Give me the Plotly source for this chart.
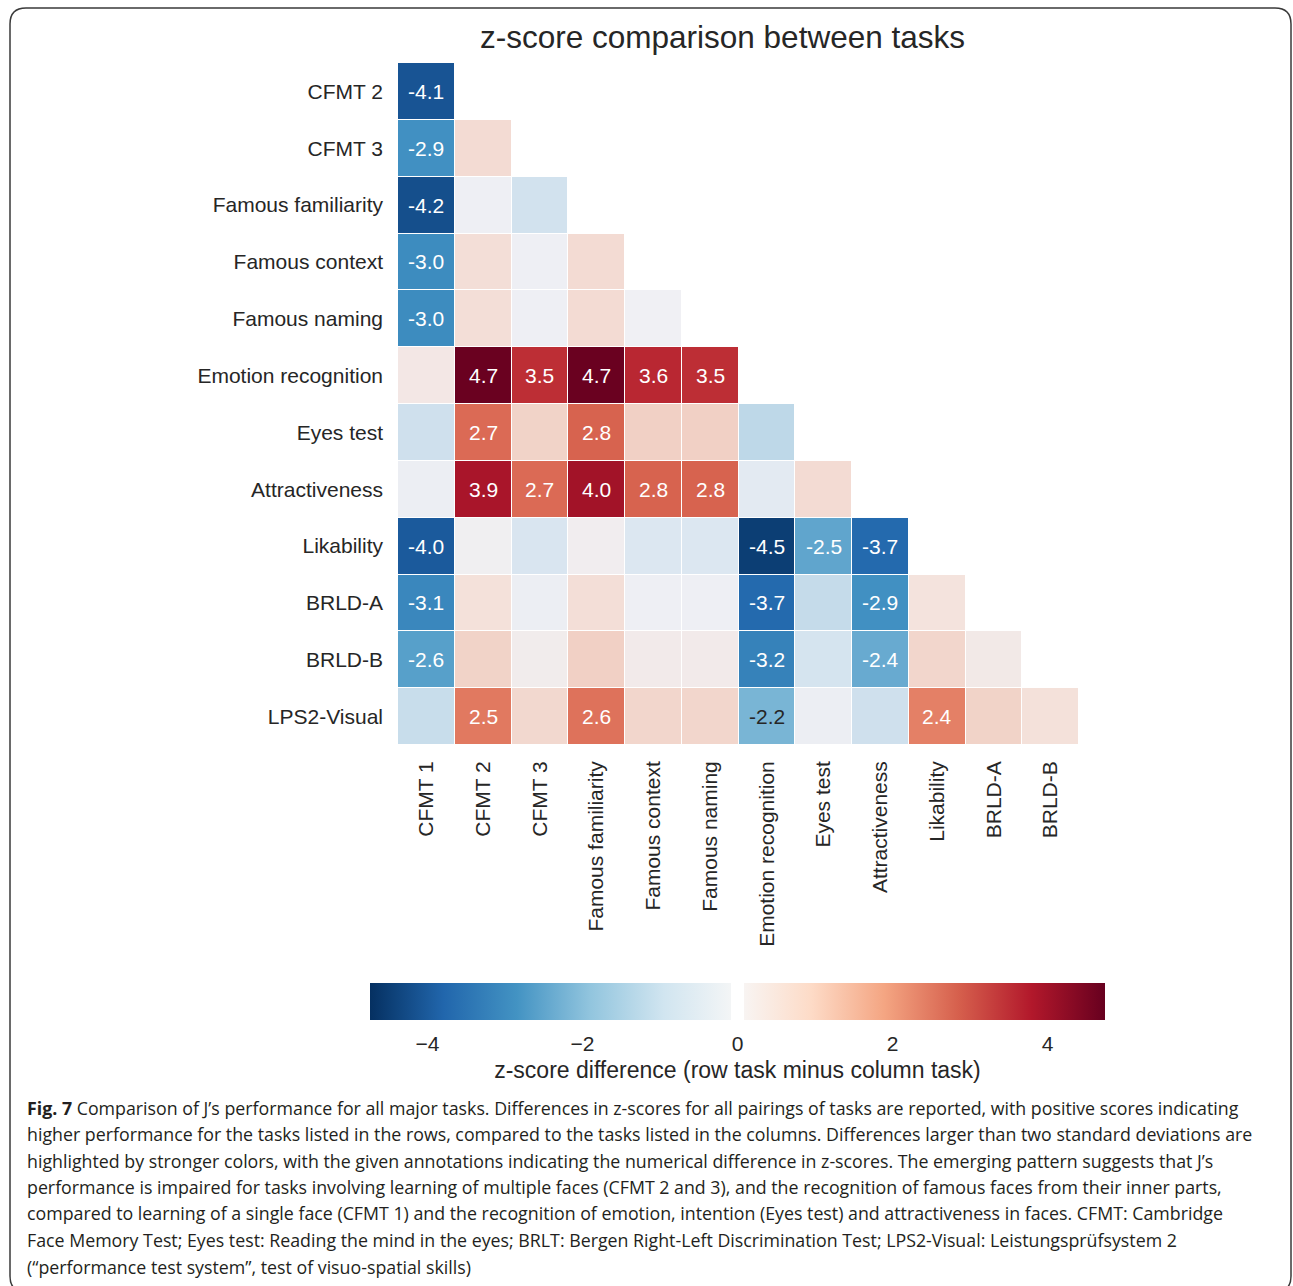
import plotly.graph_objects as go

# ---- data -------------------------------------------------------------
row_tasks = ["CFMT 2", "CFMT 3", "Famous familiarity", "Famous context",
             "Famous naming", "Emotion recognition", "Eyes test",
             "Attractiveness", "Likability", "BRLD-A", "BRLD-B", "LPS2-Visual"]
col_tasks = ["CFMT 1", "CFMT 2", "CFMT 3", "Famous familiarity",
             "Famous context", "Famous naming", "Emotion recognition",
             "Eyes test", "Attractiveness", "Likability", "BRLD-A", "BRLD-B"]

# z-score difference, row task minus column task (lower triangle)
diff_cfmt2 = [-4.1]
diff_cfmt3 = [-2.9, 1.2]
diff_famfam = [-4.2, -0.1, -1.3]
diff_famctx = [-3.0, 1.1, -0.1, 1.2]
diff_famname = [-3.0, 1.1, -0.1, 1.2, 0.0]
diff_emotion = [0.6, 4.7, 3.5, 4.7, 3.6, 3.5]
diff_eyes = [-1.4, 2.7, 1.5, 2.8, 1.6, 1.6, -1.9]
diff_attract = [-0.2, 3.9, 2.7, 4.0, 2.8, 2.8, -0.7, 1.2]
diff_likab = [-4.0, 0.1, -1.1, 0.2, -1.0, -1.0, -4.5, -2.5, -3.7]
diff_brlda = [-3.1, 1.0, -0.2, 1.1, -0.1, -0.1, -3.7, -1.7, -2.9, 0.9]
diff_brldb = [-2.6, 1.5, 0.3, 1.6, 0.4, 0.4, -3.2, -1.2, -2.4, 1.4, 0.5]
diff_lps2 = [-1.6, 2.5, 1.3, 2.6, 1.4, 1.4, -2.2, -0.2, -1.4, 2.4, 1.5, 1.0]

diff_rows = [diff_cfmt2, diff_cfmt3, diff_famfam, diff_famctx, diff_famname,
             diff_emotion, diff_eyes, diff_attract, diff_likab, diff_brlda,
             diff_brldb, diff_lps2]

colorbar_ticks = [-4, -2, 0, 2, 4]
z_limit = 4.74          # symmetric colour range
threshold = 2.0         # differences beyond this are highlighted

# ---- colours ----------------------------------------------------------
rdbu = ["#053061", "#2166ac", "#4393c3", "#92c5de", "#d1e5f0", "#f7f7f7",
        "#fddbc7", "#f4a582", "#d6604d", "#b2182b", "#67001f"]
muted_bg = (234, 234, 242)


def hex2rgb(h):
    h = h.lstrip("#")
    return tuple(int(h[i:i + 2], 16) for i in (0, 2, 4))


def rgbstr(c):
    return "rgb(%d,%d,%d)" % tuple(round(v) for v in c)


def sample(t):
    t = min(max(t, 0.0), 1.0) * (len(rdbu) - 1)
    i = min(int(t), len(rdbu) - 2)
    f = t - i
    a, b = hex2rgb(rdbu[i]), hex2rgb(rdbu[i + 1])
    return tuple(a[k] + (b[k] - a[k]) * f for k in range(3))


def blend(c, bg, a=0.5):
    return tuple(c[k] * a + bg[k] * (1 - a) for k in range(3))


n_stops = len(rdbu)
stops = [i / (n_stops - 1) for i in range(n_stops)]

# muted scale for the non-highlighted cells
muted_scale = [[s, rgbstr(blend(hex2rgb(c), muted_bg))] for s, c in zip(stops, rdbu)]

# full scale with a thin white band at zero (used by the colour bar)
gap = 0.0095
strong_scale = []
for s, c in zip(stops, rdbu):
    if s < 0.5 - gap:
        strong_scale.append([s, c])
strong_scale.append([0.5 - gap, rgbstr(sample(0.5 - gap))])
strong_scale.append([0.5 - gap + 1e-4, "rgb(255,255,255)"])
strong_scale.append([0.5 + gap - 1e-4, "rgb(255,255,255)"])
strong_scale.append([0.5 + gap, rgbstr(sample(0.5 + gap))])
for s, c in zip(stops, rdbu):
    if s > 0.5 + gap:
        strong_scale.append([s, c])


def lin(u):
    u = u / 255.0
    return u / 12.92 if u <= 0.03928 else ((u + 0.055) / 1.055) ** 2.4


def luminance(c):
    return 0.2126 * lin(c[0]) + 0.7152 * lin(c[1]) + 0.0722 * lin(c[2])


# ---- matrices -----------------------------------------------------------
n_rows, n_cols = len(row_tasks), len(col_tasks)
z_muted = [[None] * n_cols for _ in range(n_rows)]
z_strong = [[None] * n_cols for _ in range(n_rows)]
cell_labels = []
for i, vals in enumerate(diff_rows):
    for j, v in enumerate(vals):
        if abs(v) > threshold:
            z_strong[i][j] = v
            col = sample((v + z_limit) / (2 * z_limit))
            txt_col = "#262626" if luminance(col) > 0.408 else "#ffffff"
            cell_labels.append((col_tasks[j], row_tasks[i], f"{v:.1f}", txt_col))
        else:
            z_muted[i][j] = v

# ---- figure -------------------------------------------------------------
W, H = 1293, 1286


def px(x):
    return x / W


def py(y):
    return 1 - y / H


font_main = "Liberation Sans, Arial, sans-serif"
fig = go.Figure()

fig.add_trace(go.Heatmap(
    z=z_muted, x=col_tasks, y=row_tasks, colorscale=muted_scale,
    zmin=-z_limit, zmax=z_limit, showscale=False, xgap=1, ygap=1,
    hoverongaps=False,
))
fig.add_trace(go.Heatmap(
    z=z_strong, x=col_tasks, y=row_tasks, colorscale=strong_scale,
    zmin=-z_limit, zmax=z_limit, xgap=1, ygap=1, hoverongaps=False,
    colorbar=dict(
        orientation="h", x=px(737.5), xanchor="center", y=py(983),
        yanchor="top", len=735 / W, lenmode="fraction", thickness=37,
        thicknessmode="pixels", outlinewidth=0, xpad=0, ypad=0,
        tickvals=colorbar_ticks, ticks="outside", ticklen=6,
        tickcolor="rgba(0,0,0,0)",
        tickfont=dict(size=21, color="#262626", family=font_main),
        title=dict(text="z-score difference (row task minus column task)",
                   side="bottom",
                   font=dict(size=23, color="#262626", family=font_main)),
    ),
))

for xc, yc, txt, tc in cell_labels:
    fig.add_annotation(x=xc, y=yc, text=txt, showarrow=False,
                       font=dict(size=21, color=tc, family=font_main))

fig.add_annotation(xref="paper", yref="paper", x=px(722), y=py(37),
                   text="z-score comparison between tasks", showarrow=False,
                   xanchor="center", yanchor="middle",
                   font=dict(size=31.5, color="#262626", family=font_main))

caption_lines = [
    "<b>Fig. 7</b> Comparison of J’s performance for all major tasks. Differences in z-scores for all pairings of tasks are reported, with positive scores indicating",
    "higher performance for the tasks listed in the rows, compared to the tasks listed in the columns. Differences larger than two standard deviations are",
    "highlighted by stronger colors, with the given annotations indicating the numerical difference in z-scores. The emerging pattern suggests that J’s",
    "performance is impaired for tasks involving learning of multiple faces (CFMT 2 and 3), and the recognition of famous faces from their inner parts,",
    "compared to learning of a single face (CFMT 1) and the recognition of emotion, intention (Eyes test) and attractiveness in faces. CFMT: Cambridge",
    "Face Memory Test; Eyes test: Reading the mind in the eyes; BRLT: Bergen Right-Left Discrimination Test; LPS2-Visual: Leistungsprüfsystem 2",
    "(“performance test system”, test of visuo-spatial skills)",
]
caption_y = [1108, 1134, 1161, 1187, 1213, 1240, 1267]
for line, yy in zip(caption_lines, caption_y):
    fig.add_annotation(xref="paper", yref="paper", x=px(25), y=py(yy),
                       text=line, showarrow=False, xanchor="left",
                       yanchor="middle",
                       font=dict(size=17.8, color="#231f20",
                                 family="Open Sans, Noto Sans, sans-serif"))

# rounded frame around the panel
x0, y0, x1, y1, r = px(10), py(8), px(1291), py(1292), 16
rx, ry = r / W, r / H
frame = (f"M {x0 + rx},{y0} L {x1 - rx},{y0} Q {x1},{y0} {x1},{y0 - ry} "
         f"L {x1},{y1 + ry} Q {x1},{y1} {x1 - rx},{y1} L {x0 + rx},{y1} "
         f"Q {x0},{y1} {x0},{y1 + ry} L {x0},{y0 - ry} Q {x0},{y0} {x0 + rx},{y0} Z")
fig.add_shape(type="path", xref="paper", yref="paper", path=frame,
              line=dict(color="#3a3a3a", width=1.5))

fig.update_layout(
    width=W, height=H, margin=dict(l=0, r=0, t=0, b=0),
    paper_bgcolor="white", plot_bgcolor="white", showlegend=False,
    xaxis=dict(domain=[px(398), px(1079)], anchor="y", type="category",
               categoryorder="array", categoryarray=col_tasks,
               tickangle=-90, showgrid=False, zeroline=False, showline=False,
               ticks="", ticklabelstandoff=11,
               tickfont=dict(size=21, color="#262626", family=font_main)),
    yaxis=dict(domain=[py(745), py(63)], anchor="x", type="category",
               categoryorder="array", categoryarray=row_tasks,
               autorange="reversed", showgrid=False, zeroline=False,
               showline=False, ticks="", ticklabelstandoff=14,
               tickfont=dict(size=21, color="#262626", family=font_main)),
)

fig.write_html("out.html")
